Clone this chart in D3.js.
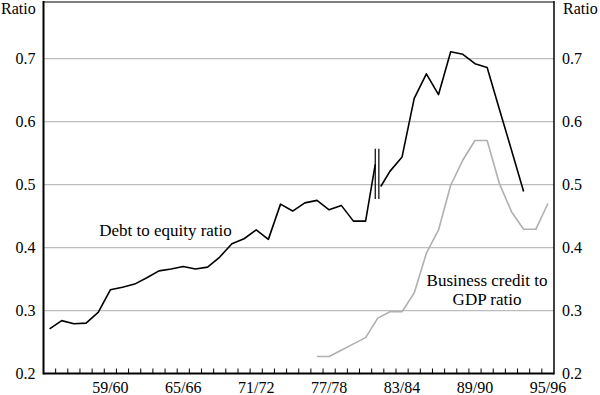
<!DOCTYPE html>
<html>
<head>
<meta charset="utf-8">
<script src="https://cdn.jsdelivr.net/npm/d3@7"></script>
<style>
  body { margin: 0; background: #fff; }
</style>
</head>
<body>
<div id="canvas"></div>
<script>
// financial years, 1954/55 .. 1995/96
const years = [
  "54/55", "55/56", "56/57", "57/58", "58/59", "59/60", "60/61", "61/62", "62/63", "63/64",
  "64/65", "65/66", "66/67", "67/68", "68/69", "69/70", "70/71", "71/72", "72/73", "73/74",
  "74/75", "75/76", "76/77", "77/78", "78/79", "79/80", "80/81", "81/82", "82/83", "83/84",
  "84/85", "85/86", "86/87", "87/88", "88/89", "89/90", "90/91", "91/92", "92/93", "93/94",
  "94/95", "95/96"
];
const xLabels = ["59/60", "65/66", "71/72", "77/78", "83/84", "89/90", "95/96"];
const yTicks = [0.2, 0.3, 0.4, 0.5, 0.6, 0.7];

// debt to equity ratio, old series (54/55 .. 81/82)
const debtOldYears = years.slice(0, 28);
const debtOld = [
  0.271, 0.284, 0.279, 0.280, 0.297, 0.333, 0.337, 0.342, 0.352, 0.363,
  0.366, 0.370, 0.366, 0.369, 0.385, 0.406, 0.414, 0.428, 0.413, 0.469,
  0.458, 0.471, 0.475, 0.460, 0.467, 0.442, 0.442, 0.532
];
// debt to equity ratio, new series (81/82 .. 93/94)
const debtNewYears = years.slice(27, 40);
const debtNew = [
  0.497, 0.521, 0.544, 0.637, 0.676, 0.643, 0.711, 0.707, 0.692, 0.686,
  0.620, 0.555, 0.489
];
// business credit to GDP ratio (76/77 .. 95/96)
const creditYears = years.slice(22);
const credit = [
  0.227, 0.227, 0.237, 0.247, 0.257, 0.288, 0.298, 0.298, 0.328, 0.391,
  0.428, 0.499, 0.539, 0.570, 0.570, 0.502, 0.457, 0.429, 0.429, 0.470
];

const width = 600, height = 395;
const mLeft = 43.5, mRight = 554, mTop = 2, mBottom = 373.5;
const breakGap = 2.5;
const serif = "'Liberation Serif'";

const svg = d3.select("#canvas").append("svg")
  .attr("width", width).attr("height", height);

const x = d3.scaleBand().domain(years).range([mLeft, mRight]).padding(0);
const xc = d => x(d) + x.bandwidth() / 2;
const y = d3.scaleLinear().domain([0.2, 0.79]).range([mBottom, mTop]);

// gridlines
svg.append("g").selectAll("line")
  .data(yTicks.slice(1))
  .join("line")
  .attr("x1", mLeft).attr("x2", mRight)
  .attr("y1", d => y(d)).attr("y2", d => y(d))
  .attr("stroke", "#bdbdbd").attr("stroke-width", 1.3);

// y axes labels
svg.append("g")
  .attr("transform", `translate(${mLeft},0)`)
  .call(d3.axisLeft(y).tickValues(yTicks).tickSize(0).tickPadding(8).tickFormat(d3.format(".1f")))
  .call(g => g.select(".domain").remove());
svg.append("g")
  .attr("transform", `translate(${mRight},0)`)
  .call(d3.axisRight(y).tickValues(yTicks).tickSize(0).tickPadding(8).tickFormat(d3.format(".1f")))
  .call(g => g.select(".domain").remove());

// x axis labels
svg.append("g")
  .attr("transform", `translate(0,${mBottom})`)
  .call(d3.axisBottom(x).tickValues(xLabels).tickSize(0).tickPadding(8))
  .call(g => g.select(".domain").remove());

// x ticks at year boundaries, pointing inward
svg.append("g").selectAll("line")
  .data(years.slice(1))
  .join("line")
  .attr("x1", d => x(d)).attr("x2", d => x(d))
  .attr("y1", mBottom).attr("y2", mBottom - 5)
  .attr("stroke", "#000").attr("stroke-width", 1);

// frame
svg.append("line").attr("x1", mLeft).attr("x2", mLeft).attr("y1", mTop - 1).attr("y2", mBottom + 1)
  .attr("stroke", "#000").attr("stroke-width", 2);
svg.append("line").attr("x1", mLeft).attr("x2", mRight).attr("y1", mBottom).attr("y2", mBottom)
  .attr("stroke", "#000").attr("stroke-width", 2);
svg.append("line").attr("x1", mRight).attr("x2", mRight).attr("y1", mTop - 1).attr("y2", mBottom + 1)
  .attr("stroke", "#000").attr("stroke-width", 1.5);
svg.append("line").attr("x1", mLeft).attr("x2", mRight).attr("y1", mTop).attr("y2", mTop)
  .attr("stroke", "#000").attr("stroke-width", 1);

const line = d3.line().x(d => d.x).y(d => y(d.v));

const oldPts = debtOld.map((v, i) => ({ x: xc(debtOldYears[i]), v }));
oldPts[oldPts.length - 1].x -= breakGap;
const newPts = debtNew.map((v, i) => ({ x: xc(debtNewYears[i]), v }));
newPts[0].x += breakGap + 0.5;
const creditPts = credit.map((v, i) => ({ x: xc(creditYears[i]), v }));

svg.append("path").datum(creditPts)
  .attr("fill", "none").attr("stroke", "#b0b0b0").attr("stroke-width", 1.6)
  .attr("stroke-linejoin", "round").attr("d", line);

svg.append("path").datum(oldPts)
  .attr("fill", "none").attr("stroke", "#000").attr("stroke-width", 1.6)
  .attr("stroke-linejoin", "round").attr("d", line);
svg.append("path").datum(newPts)
  .attr("fill", "none").attr("stroke", "#000").attr("stroke-width", 1.6)
  .attr("stroke-linejoin", "round").attr("d", line);

// series break marks
const bx = xc(years[27]);
[bx - breakGap, bx + 1.1].forEach(px => {
  svg.append("line")
    .attr("x1", px).attr("x2", px)
    .attr("y1", y(0.557)).attr("y2", y(0.477))
    .attr("stroke", "#000").attr("stroke-width", 1.2);
});

// all axis text in serif
svg.selectAll("g").attr("font-family", null).attr("font-size", null);
svg.selectAll("text")
  .style("font-family", serif)
  .style("font-size", "16px")
  .attr("fill", "#000");

// unit labels
const unit = [1, 563];
unit.forEach(px => {
  svg.append("text").attr("x", px).attr("y", 14)
    .style("font-family", serif).style("font-size", "16px")
    .text("Ratio");
});

// series labels
svg.append("text").attr("x", 165.5).attr("y", 236).attr("text-anchor", "middle")
  .style("font-family", serif).style("font-size", "17px")
  .text("Debt to equity ratio");
svg.append("text").attr("x", 487).attr("y", 286).attr("text-anchor", "middle")
  .style("font-family", serif).style("font-size", "17px")
  .text("Business credit to");
svg.append("text").attr("x", 487).attr("y", 305).attr("text-anchor", "middle")
  .style("font-family", serif).style("font-size", "17px")
  .text("GDP ratio");
</script>
</body>
</html>
